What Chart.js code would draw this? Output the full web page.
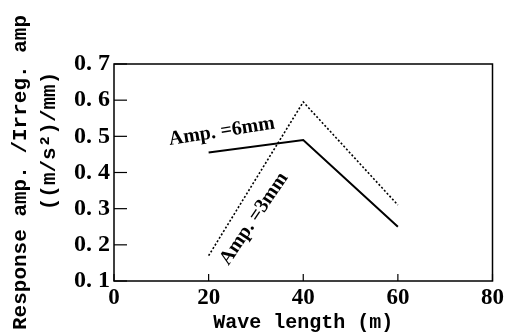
<!DOCTYPE html>
<html>
<head>
<meta charset="utf-8">
<script src="https://cdn.jsdelivr.net/npm/chart.js@4/dist/chart.umd.min.js"></script>
<style>
  html,body{margin:0;padding:0;background:#fff;}
  #wrap{width:507px;height:335px;}
</style>
</head>
<body>
<div id="wrap"><canvas id="myCanvas" width="507" height="335"></canvas></div>
<script>
// wave length (m)
var waveLengths=[20,40,60];
// response amp / irreg. amp  ((m/s2)/mm)
var amp6mm=[0.455,0.49,0.25];
var amp3mm=[0.17,0.595,0.31];
var xTicks=[0,20,40,60,80];
var yTicks=[0.1,0.2,0.3,0.4,0.5,0.6,0.7];
// label text, anchor in data units, rotation in degrees
var notes=[
  {text:'Amp. =6mm',x:22.8,y:0.513,rot:-9},
  {text:'Amp. =3mm',x:29.6,y:0.272,rot:-56}
];

var serif='"Liberation Serif", "DejaVu Serif", serif';
var mono='"Liberation Mono", "DejaVu Sans Mono", monospace';

function pts(vals){
  var out=[];
  for(var i=0;i<vals.length;i++){
    out.push({x:waveLengths[i],y:vals[i]});
  }
  return out;
}

// draws the inward tick marks, the frame and the line labels
var extras={
  id:'extras',
  afterDraw:function(chart){
    var ctx=chart.ctx;
    var a=chart.chartArea;
    var xs=chart.scales.x, ys=chart.scales.y;
    ctx.save();
    ctx.strokeStyle='#000';
    ctx.lineWidth=1.5;
    ctx.strokeRect(a.left,a.top,a.right-a.left,a.bottom-a.top);
    ctx.lineWidth=1.2;
    yTicks.forEach(function(v){
      var py=ys.getPixelForValue(v);
      ctx.beginPath();ctx.moveTo(a.left,py);ctx.lineTo(a.left+13,py);ctx.stroke();
    });
    xTicks.forEach(function(v){
      var px=xs.getPixelForValue(v);
      ctx.beginPath();ctx.moveTo(px,a.bottom);ctx.lineTo(px,a.bottom-7);ctx.stroke();
    });
    ctx.fillStyle='#000';
    ctx.font='bold 20px '+serif;
    ctx.textAlign='center';
    ctx.textBaseline='middle';
    notes.forEach(function(n){
      ctx.save();
      ctx.translate(xs.getPixelForValue(n.x),ys.getPixelForValue(n.y));
      ctx.rotate(n.rot*Math.PI/180);
      ctx.fillText(n.text,0,0);
      ctx.restore();
    });
    ctx.restore();
  }
};

var ctx=document.getElementById('myCanvas');
var myChart=new Chart(ctx,{
  type:'line',
  data:{
    datasets:[
      {label:'Amp. =6mm',data:pts(amp6mm),borderColor:'#000',borderWidth:2,pointRadius:0,fill:false,tension:0},
      {label:'Amp. =3mm',data:pts(amp3mm),borderColor:'#000',borderWidth:1.6,borderDash:[2,2],pointRadius:0,fill:false,tension:0}
    ]
  },
  options:{
    responsive:false,
    animation:false,
    layout:{padding:{top:64,right:11,left:0,bottom:0}},
    plugins:{legend:{display:false},tooltip:{enabled:false}},
    scales:{
      x:{
        type:'linear',min:0,max:80,
        afterBuildTicks:function(s){s.ticks=xTicks.map(function(v){return {value:v};});},
        afterFit:function(s){s.height=54;},
        grid:{display:false,drawTicks:false},
        border:{display:false},
        ticks:{color:'#000',padding:3,maxRotation:0,font:{family:serif,size:23,weight:'bold'}},
        title:{display:true,text:'Wave length (m)',color:'#000',padding:{top:0,bottom:0},
          font:{family:mono,size:20,weight:'bold'}}
      },
      y:{
        min:0.1,max:0.7,
        afterBuildTicks:function(s){s.ticks=yTicks.map(function(v){return {value:v};});},
        afterFit:function(s){s.width=114;},
        grid:{display:false,drawTicks:false},
        border:{display:false},
        ticks:{color:'#000',padding:4,
          font:{family:serif,size:24,weight:'bold'},
          callback:function(v){return v.toFixed(1).replace('.','. ');}},
        title:{display:true,text:['Response amp. /Irreg. amp','     ((m/s\u00b2)/mm)'],color:'#000',
          padding:{top:6,bottom:0},
          font:{family:mono,size:21,weight:'bold',lineHeight:1.4}}
      }
    }
  },
  plugins:[extras]
});
</script>
</body>
</html>
